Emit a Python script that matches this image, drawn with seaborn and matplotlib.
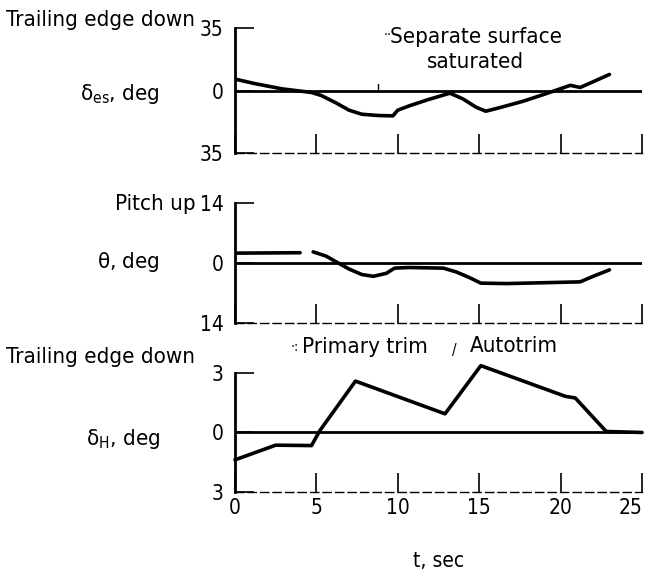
import matplotlib
matplotlib.use("Agg")
import matplotlib.pyplot as plt
import seaborn as sns

# elevon / separate surface deflection, deg
t_es = [0, 1.2, 2.9, 4.7, 5.3, 6.2, 7.0, 7.8, 8.8, 9.7, 10.0, 10.7, 11.9, 13.2,
        14.0, 14.8, 15.4, 16.3, 17.7, 18.9, 19.8, 20.6, 21.2, 21.8, 23.0]
d_es = [6.4, 3.9, 0.9, -1.1, -2.8, -6.9, -11.0, -13.3, -14.0, -14.2, -11.0, -8.6, -5.0, -1.5,
        -4.7, -9.3, -11.6, -9.5, -6.0, -2.4, 0.4, 2.9, 1.7, 4.1, 9.0]

# pitch attitude, deg (trace has a break near 4 s)
t_th_a = [0, 4.0]
th_a = [2.3, 2.4]
t_th_b = [4.8, 5.6, 6.2, 7.0, 7.8, 8.5, 9.3, 9.8, 10.7, 12.8, 13.6, 14.4, 15.1, 16.7, 21.2, 22.0, 23.0]
th_b = [2.6, 1.6, 0.3, -1.4, -2.7, -3.1, -2.4, -1.2, -1.05, -1.2, -2.1, -3.4, -4.7, -4.8, -4.4, -3.1, -1.6]

# horizontal stabilizer, deg
t_h = [0, 2.5, 4.7, 5.2, 7.4, 12.9, 15.1, 20.3, 20.9, 22.8, 25]
d_h = [-1.38, -0.64, -0.66, 0.08, 2.59, 0.94, 3.37, 1.82, 1.74, 0.05, 0.0]

xticks = [0, 5, 10, 15, 20, 25]
lims = [35, 14, 3]

sns.set_style("white")
plt.rcParams["font.family"] = ["DejaVu Sans"]
plt.rcParams["font.stretch"] = "condensed"
plt.rcParams["text.color"] = "black"
plt.rcParams["xtick.color"] = "black"
plt.rcParams["ytick.color"] = "black"
plt.rcParams["axes.labelcolor"] = "black"
plt.rcParams["mathtext.fontset"] = "custom"
plt.rcParams["mathtext.rm"] = "DejaVu Sans:stretch=condensed"

fig = plt.figure(figsize=(6.52, 5.71), dpi=100)
L, W = 0.3604, 0.6243
ax1 = fig.add_axes([L, 0.732, W, 0.219])
ax2 = fig.add_axes([L, 0.4343, W, 0.2102])
ax3 = fig.add_axes([L, 0.1384, W, 0.2084])

lw = 2.6
sns.lineplot(x=t_es, y=d_es, ax=ax1, color="black", lw=lw, sort=False, estimator=None)
sns.lineplot(x=t_th_a, y=th_a, ax=ax2, color="black", lw=lw, sort=False, estimator=None)
sns.lineplot(x=t_th_b, y=th_b, ax=ax2, color="black", lw=lw, sort=False, estimator=None)
sns.lineplot(x=t_h, y=d_h, ax=ax3, color="black", lw=lw, sort=False, estimator=None)
for ln in ax3.lines:
    ln.set_clip_on(False)

# saturation marker
ax1.plot([8.8, 8.8], [0, 3.5], color="black", lw=1.0)

for ax, lim in zip([ax1, ax2, ax3], lims):
    ax.axhline(0, color="black", lw=2.0, zorder=1)
    ax.set_xlim(0, 25)
    ax.set_ylim(-lim, lim)
    ax.set_yticks([-lim, 0, lim])
    ax.set_yticklabels([str(lim), "0", str(lim)])
    ax.set_xticks(xticks)
    ax.tick_params(axis="x", bottom=True, direction="in", length=14, width=1.2,
                   labelsize=15, pad=4)
    ax.tick_params(axis="y", left=True, direction="in", length=14, width=1.2,
                   labelsize=15, pad=8)
    ax.spines["top"].set_visible(False)
    ax.spines["right"].set_visible(False)
    ax.spines["left"].set_linewidth(2.0)
    ax.spines["left"].set_color("black")
    ax.spines["bottom"].set_linewidth(1.0)
    ax.spines["bottom"].set_color("black")
    ax.spines["bottom"].set_linestyle((0, (6, 3)))
    ax.set_xlabel("")
    ax.set_ylabel("")

ax1.set_xticklabels([])
ax2.set_xticklabels([])
ax3.set_xticklabels([str(v) for v in xticks])
ax3.get_xticklabels()[-1].set_horizontalalignment("right")
ax3.set_xlabel("t, sec", fontsize=15, labelpad=24)

fs = 16
fig.text(0.299, 0.965, "Trailing edge down", ha="right", va="center", fontsize=fs)
fig.text(0.245, 0.836, r"$\mathregular{\delta_{es}}$, deg", ha="right", va="center", fontsize=fs)
fig.text(0.300, 0.643, "Pitch up", ha="right", va="center", fontsize=fs)
fig.text(0.245, 0.541, r"$\mathregular{\theta}$, deg", ha="right", va="center", fontsize=fs)
fig.text(0.299, 0.375, "Trailing edge down", ha="right", va="center", fontsize=fs)
fig.text(0.245, 0.232, r"$\mathregular{\delta_{H}}$, deg", ha="right", va="center", fontsize=fs)

fig.text(0.730, 0.914, "Separate surface\nsaturated", ha="center", va="center",
         fontsize=fs, linespacing=1.3)
fig.text(0.600, 0.938, "··", ha="right", va="center", fontsize=10)
fig.text(0.463, 0.392, "Primary trim", ha="left", va="center", fontsize=fs)
fig.text(0.458, 0.392, "·:", ha="right", va="center", fontsize=10)
fig.text(0.721, 0.394, "Autotrim", ha="left", va="center", fontsize=fs)
fig.text(0.697, 0.387, "/", ha="center", va="center", fontsize=11)

fig.savefig("out.png", dpi=100)
